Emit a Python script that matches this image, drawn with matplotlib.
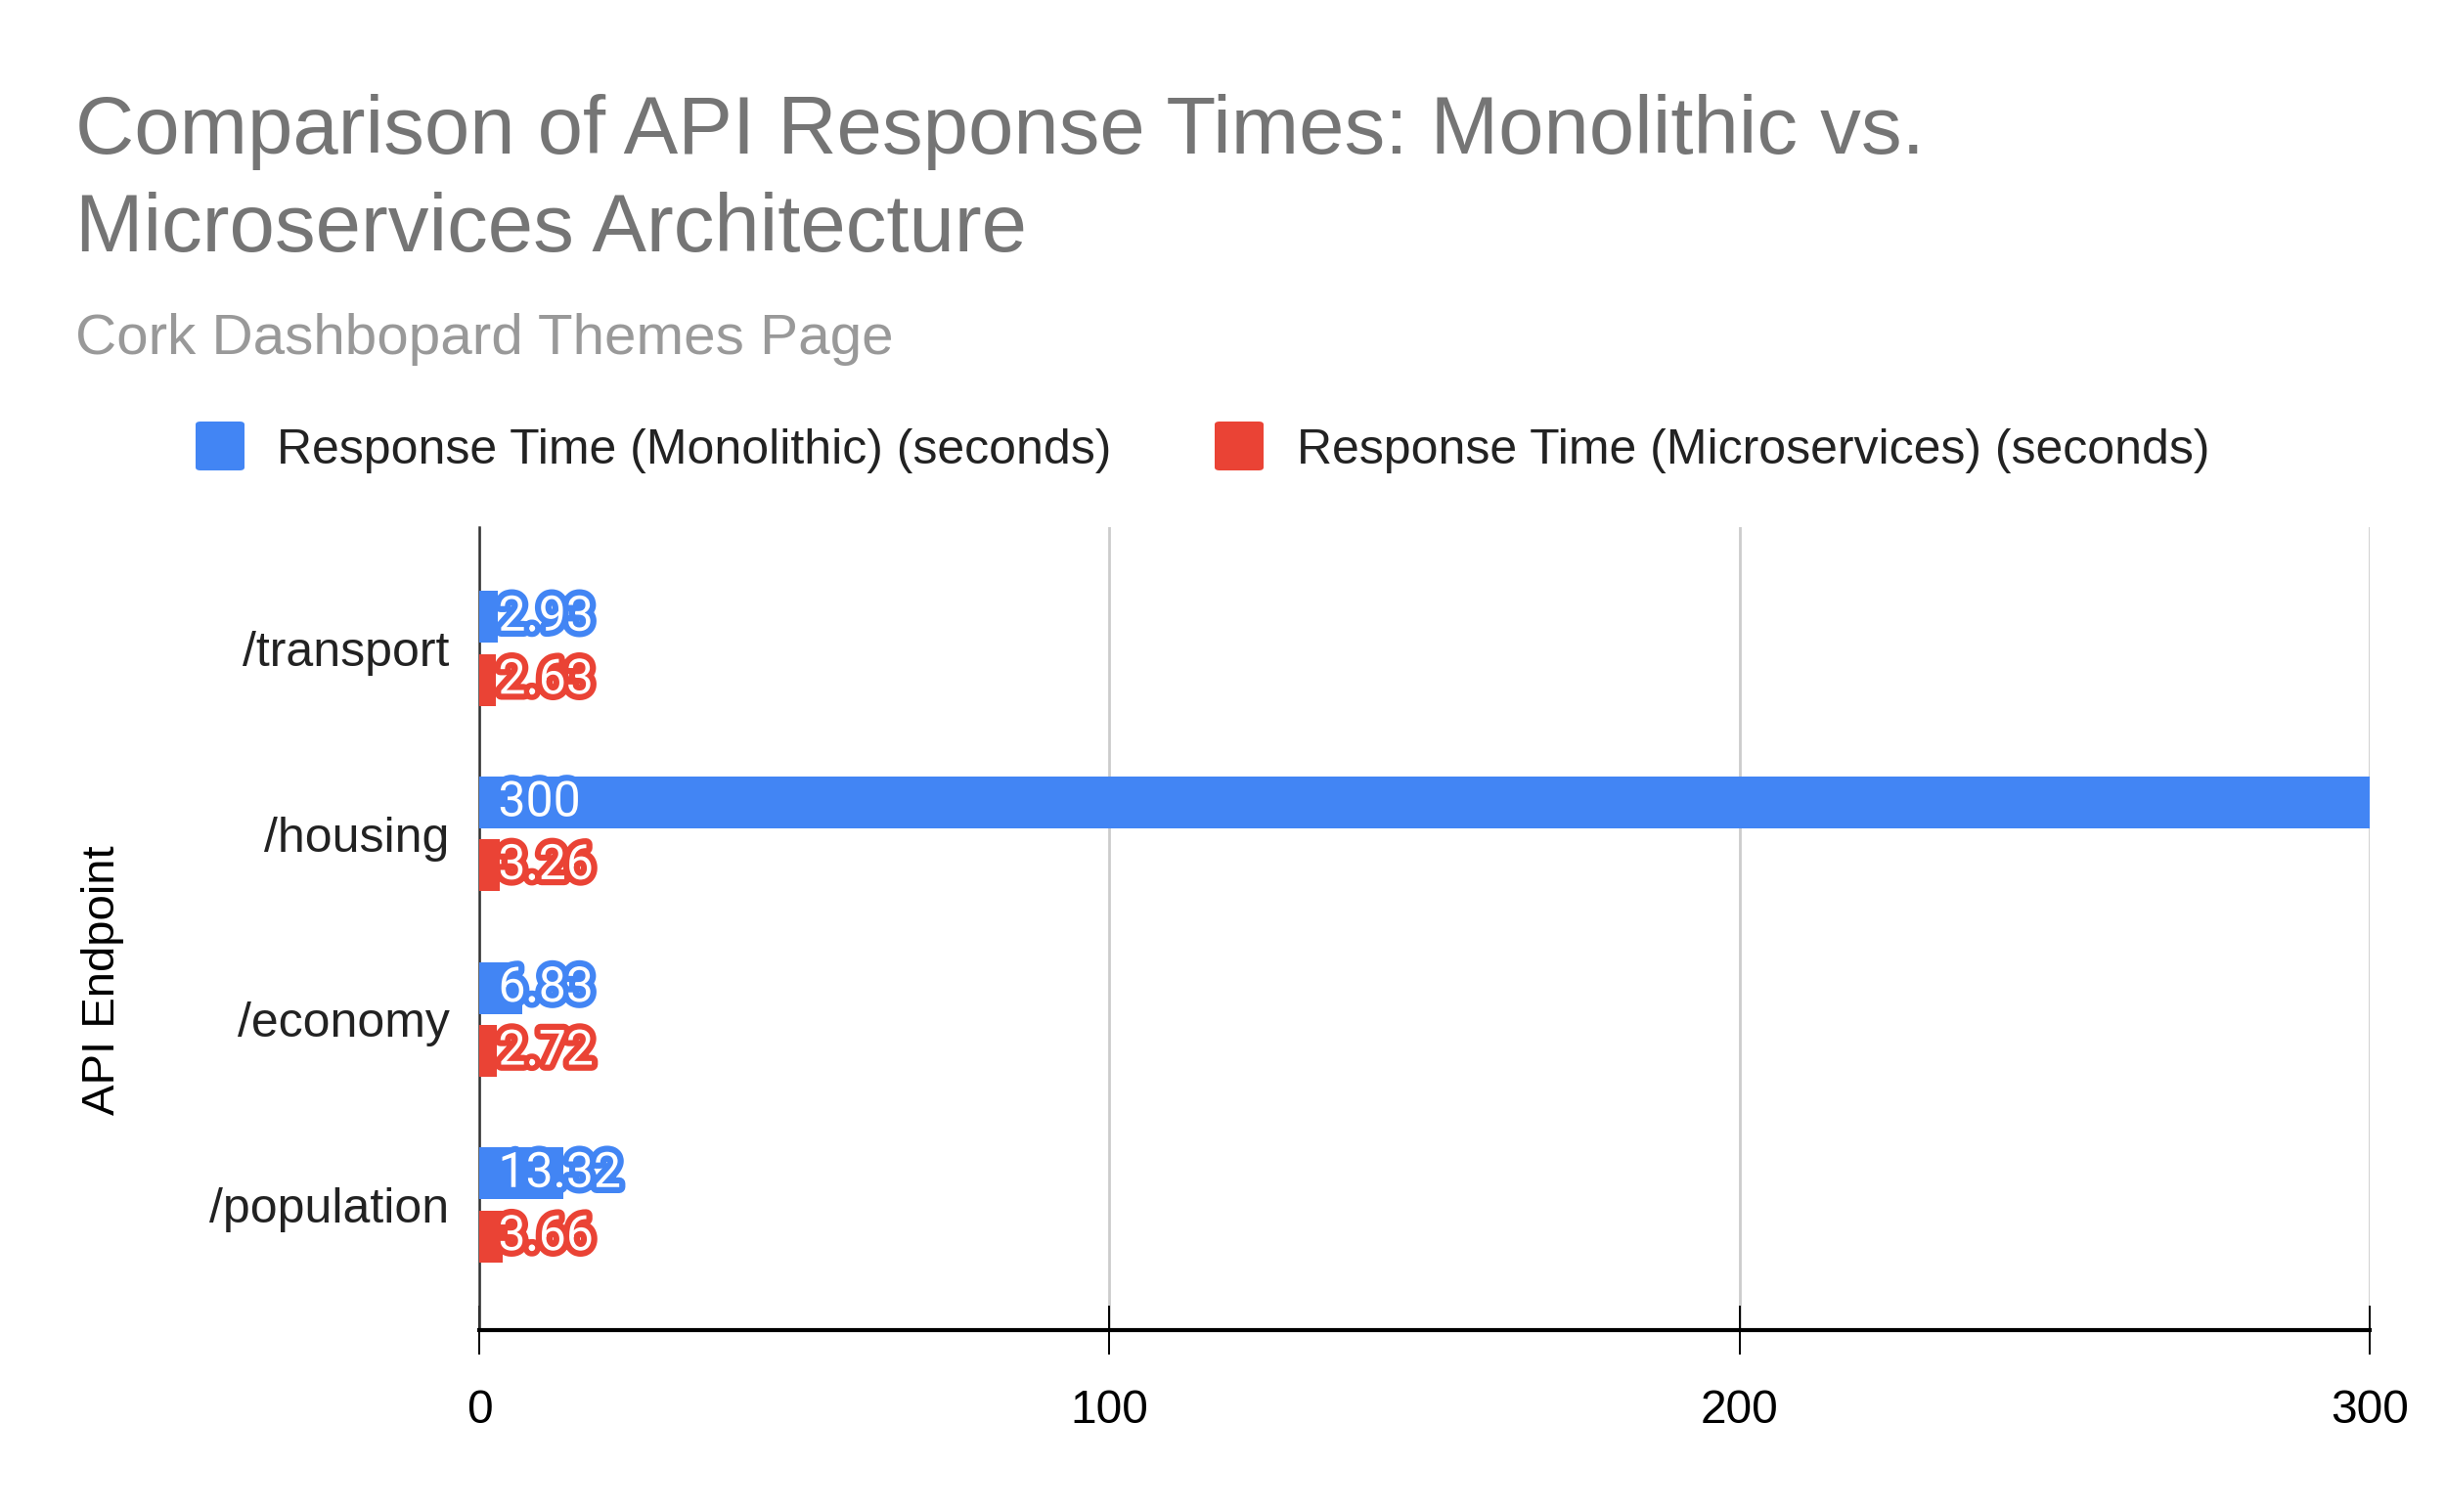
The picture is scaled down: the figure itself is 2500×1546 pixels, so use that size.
import matplotlib
matplotlib.use("Agg")
import matplotlib.pyplot as plt
import matplotlib.patheffects as pe
from matplotlib.patches import FancyBboxPatch
import numpy as np

plt.rcParams['font.family'] = ['Liberation Sans', 'DejaVu Sans']

# data
endpoints = ['/transport', '/housing', '/economy', '/population']
mono = [2.93, 300, 6.83, 13.32]
micro = [2.63, 3.26, 2.72, 3.66]
series_names = ['Response Time (Monolithic) (seconds)',
                'Response Time (Microservices) (seconds)']
xticks = [0, 100, 200, 300]

blue = '#4285F4'
red = '#EA4335'

W, H = 2500, 1546
fig = plt.figure(figsize=(W / 100, H / 100), dpi=100)

# axes placed in pixel terms of the reference
ax = fig.add_axes([490 / W, 1 - 1360 / H, (2423 - 490) / W, (1360 - 539) / H])

y = np.arange(len(endpoints))
bh = 0.28
off = 0.17
ax.barh(y - off, mono, height=bh, color=blue, zorder=3)
ax.barh(y + off, micro, height=bh, color=red, zorder=3)

# value labels: white text with coloured outline, starting near the axis
for vals, col, shift in [(mono, blue, -off), (micro, red, off)]:
    for i, v in enumerate(vals):
        t = ax.annotate(f'{v:g}', xy=(0, i + shift), xytext=(14, 0),
                        textcoords='offset points', ha='left', va='center',
                        fontsize=36, color='white', zorder=5,
                        family=['Roboto', 'DejaVu Sans'])
        t.set_path_effects([pe.withStroke(linewidth=9, foreground=col)])

ax.set_xlim(0, 300)
ax.set_ylim(3.675, -0.654)
ax.set_xticks(xticks)
ax.set_xticklabels([str(t) for t in xticks])
ax.set_yticks(y)
ax.set_yticklabels(endpoints)

ax.tick_params(axis='x', direction='inout', length=36, width=1.4, pad=25,
               labelsize=34.5, colors='#000000')
ax.tick_params(axis='y', length=0, pad=22, labelsize=36, colors='#222222')

ax.grid(axis='x', color='#cccccc', linewidth=2)
ax.set_axisbelow(True)
for s in ['top', 'right']:
    ax.spines[s].set_visible(False)
ax.spines['left'].set_color('#333333')
ax.spines['left'].set_linewidth(1.8)
ax.spines['bottom'].set_color('#000000')
ax.spines['bottom'].set_linewidth(3)

# axis title
fig.text(105 / W, 1 - 1002 / H, 'API Endpoint', rotation=90, ha='center',
         va='center', fontsize=34, color='#000000')

# title and subtitle
fig.text(77 / W, 1 - 157 / H, 'Comparison of API Response Times: Monolithic vs.',
         fontsize=60, color='#757575', ha='left', va='baseline')
fig.text(77 / W, 1 - 257 / H, 'Microservices Architecture',
         fontsize=60, color='#757575', ha='left', va='baseline')
fig.text(77 / W, 1 - 362 / H, 'Cork Dashbopard Themes Page',
         fontsize=42, color='#999999', ha='left', va='baseline')

# legend drawn by hand
for x0, tx, col, name in [(200, 283, blue, series_names[0]),
                          (1242, 1326, red, series_names[1])]:
    box = FancyBboxPatch((x0 / W, 1 - 481 / H), 50 / W, 50 / H,
                         boxstyle='round,pad=0,rounding_size=0.002',
                         transform=fig.transFigure, facecolor=col,
                         edgecolor='none')
    fig.patches.append(box)
    fig.text(tx / W, 1 - 461 / H, name, fontsize=36, color='#222222',
             ha='left', va='center')

fig.savefig('out.png', dpi=100, facecolor='white')
